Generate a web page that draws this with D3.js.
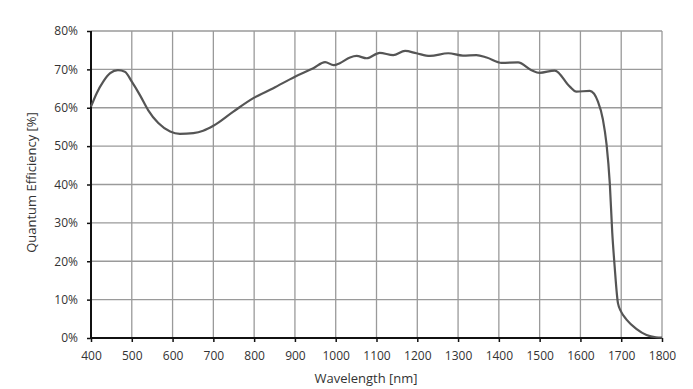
<!DOCTYPE html>
<html><head><meta charset="utf-8">
<script src="https://cdn.jsdelivr.net/npm/d3@7"></script>
<style>
html,body{margin:0;padding:0;background:#fff;}
text{font-family:"Open Sans",Lato,sans-serif;fill:#333;}
</style></head>
<body><svg id="c" width="693" height="389"></svg>
<script>
const wavelength = [400,414,430,447,466,483,500,520,540,565,594,618,651,675,700,749,798,847,900,945,974,995,1010,1035,1051,1076,1108,1141,1170,1198,1231,1276,1312,1345,1370,1407,1447,1480,1500,1537,1574,1590,1623,1643,1655,1664,1672,1678,1684,1692,1700,1713,1737,1762,1785,1800];
const qe = [60.3,63.8,66.8,69.0,69.8,69.4,66.8,63.3,59.4,56.0,53.8,53.2,53.4,54.0,55.3,59.0,62.5,65.1,68.1,70.3,71.9,71.1,71.6,73.1,73.5,72.9,74.3,73.7,74.8,74.2,73.5,74.2,73.6,73.7,73.1,71.7,71.8,69.8,69.1,69.7,65.5,64.2,64.4,61.6,57.0,50.5,40.3,27.5,18.5,9.1,6.8,4.8,2.4,0.8,0.2,0.1];
const xTicks = [400,500,600,700,800,900,1000,1100,1200,1300,1400,1500,1600,1700,1800];
const yTicks = [0,10,20,30,40,50,60,70,80];
const xTitle = "Wavelength [nm]";
const yTitle = "Quantum Efficiency [%]";

const svg = d3.select("#c");
const m = {l:91, r:662, t:31, b:338};
const x = d3.scaleLinear().domain([400,1800]).range([m.l,m.r]);
const y = d3.scaleLinear().domain([0,80]).range([m.b,m.t]);

// grid
const g = svg.append("g");
g.selectAll(".vx").data(xTicks.slice(1)).join("line")
  .attr("x1",d=>x(d)).attr("x2",d=>x(d)).attr("y1",m.t).attr("y2",m.b)
  .attr("stroke","#9a9a9a").attr("stroke-width",1.3);
g.selectAll(".hy").data(yTicks.slice(1)).join("line")
  .attr("x1",m.l).attr("x2",m.r).attr("y1",d=>y(d)).attr("y2",d=>y(d))
  .attr("stroke","#9a9a9a").attr("stroke-width",1.3);

// axes
const xa = svg.append("g").attr("transform",`translate(0,${m.b})`)
  .call(d3.axisBottom(x).tickValues(xTicks).tickSize(4).tickPadding(9).tickFormat(d3.format("d")));
const ya = svg.append("g").attr("transform",`translate(${m.l},0)`)
  .call(d3.axisLeft(y).tickValues(yTicks).tickSize(4).tickPadding(9).tickFormat(d=>d+"%"));
[xa,ya].forEach(a=>{
  a.select(".domain").attr("stroke","#111").attr("stroke-width",2);
  a.selectAll(".tick line").attr("stroke","#111").attr("stroke-width",1.5);
  a.selectAll(".tick text").attr("font-size",12).attr("fill","#333").style("font-family","'Open Sans', Lato, sans-serif");
});
xa.select(".domain").attr("d",`M${m.l},0H${m.r}`);
ya.select(".domain").attr("d",`M0,${m.b}V${m.t}`);

// line
const line = d3.line().x((d,i)=>x(wavelength[i])).y(d=>y(d)).curve(d3.curveMonotoneX);
svg.append("path").datum(qe).attr("d",line)
  .attr("fill","none").attr("stroke","#555").attr("stroke-width",2.2);

// titles
svg.append("text").attr("x",366).attr("y",383).attr("text-anchor","middle")
  .attr("font-size",13).text(xTitle);
svg.append("text").attr("transform",`translate(36,${(m.t+m.b)/2-2}) rotate(-90)`)
  .attr("text-anchor","middle").attr("font-size",13).text(yTitle);
</script></body></html>
